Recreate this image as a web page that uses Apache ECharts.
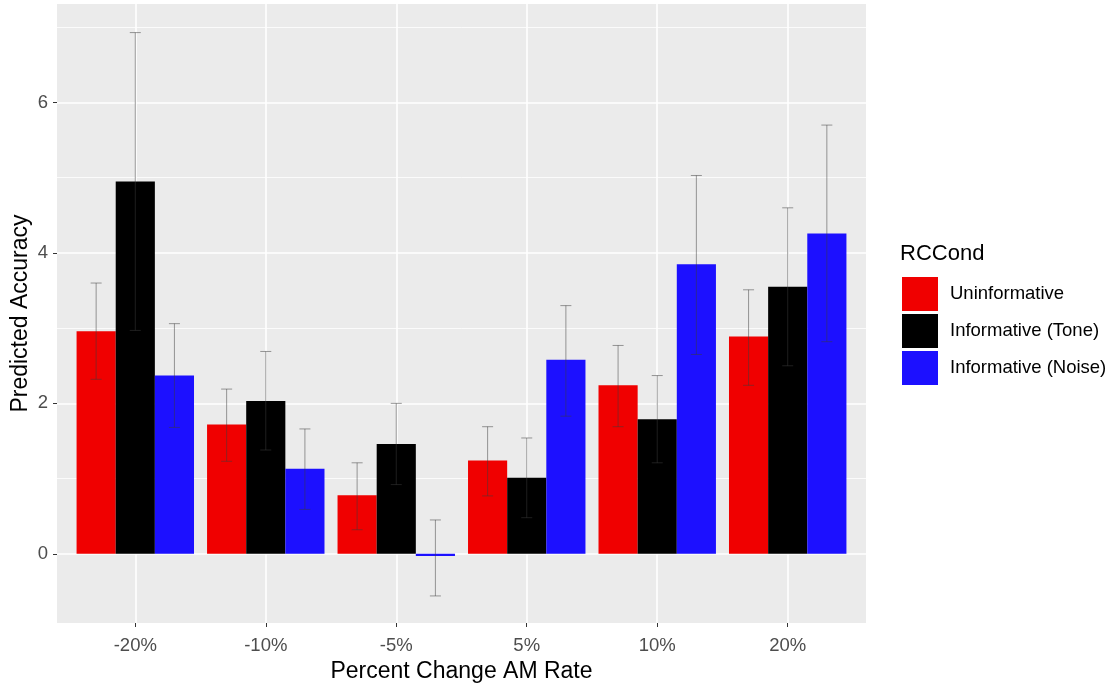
<!DOCTYPE html>
<html>
<head>
<meta charset="utf-8">
<script src="https://cdn.jsdelivr.net/npm/echarts@6/dist/echarts.min.js"></script>
<style>
  html, body { margin: 0; padding: 0; background: #fff; }
  #chart { width: 1118px; height: 687px; }
</style>
</head>
<body>
<div id="chart"></div>
<script>
// categorias e valores
const categories = ['-20%', '-10%', '-5%', '5%', '10%', '20%'];
const seriesNames = ['Uninformative', 'Informative (Tone)', 'Informative (Noise)'];

const uninformative = [2.96, 1.72, 0.78, 1.24, 2.24, 2.89];
const uninformativeLow = [2.32, 1.23, 0.32, 0.77, 1.69, 2.24];
const uninformativeHigh = [3.60, 2.19, 1.21, 1.69, 2.77, 3.51];

const tone = [4.95, 2.03, 1.46, 1.01, 1.79, 3.55];
const toneLow = [2.97, 1.38, 0.92, 0.48, 1.21, 2.50];
const toneHigh = [6.93, 2.69, 2.00, 1.54, 2.37, 4.60];

const noise = [2.37, 1.13, -0.03, 2.58, 3.85, 4.26];
const noiseLow = [1.68, 0.59, -0.56, 1.83, 2.65, 2.82];
const noiseHigh = [3.06, 1.66, 0.45, 3.30, 5.03, 5.70];

const yTicks = [0, 2, 4, 6];
const yMinorLines = [1, 3, 5, 7];

const colors = ['#F00000', '#000000', '#1C10FF'];
const fontFamily = '"Liberation Sans", Arial, sans-serif';

// posições das categorias (eixo discreto do ggplot tem expansão de 0.6)
const catIndex = categories.map(function (c, i) { return i; });

function pairs(values) {
    return values.map(function (v, i) { return [i, v]; });
}

function errorSeries(k, low, high) {
    return {
        type: 'custom',
        z: 3,
        silent: true,
        data: categories.map(function (c, i) { return [i, low[i], high[i]]; }),
        encode: { x: 0, y: [1, 2] },
        renderItem: function (params, api) {
            var idx = api.value(0);
            var top = api.coord([idx, api.value(2)]);
            var bot = api.coord([idx, api.value(1)]);
            var bw = api.size([1, 0])[0] * 0.9 / 3;
            var x = top[0] + (k - 1) * bw;
            var cap = 5.5;
            var style = { stroke: 'rgba(60,60,60,0.5)', lineWidth: 1 };
            return {
                type: 'group',
                children: [
                    { type: 'line', shape: { x1: x, y1: top[1], x2: x, y2: bot[1] }, style: style },
                    { type: 'line', shape: { x1: x - cap, y1: top[1], x2: x + cap, y2: top[1] }, style: style },
                    { type: 'line', shape: { x1: x - cap, y1: bot[1], x2: x + cap, y2: bot[1] }, style: style }
                ]
            };
        }
    };
}

// linhas de grade no estilo ggplot
var gridLines = [];
yTicks.forEach(function (v) {
    gridLines.push({ yAxis: v, lineStyle: { width: 1.6 } });
});
yMinorLines.forEach(function (v) {
    gridLines.push({ yAxis: v, lineStyle: { width: 0.8 } });
});
catIndex.forEach(function (i) {
    gridLines.push({ xAxis: i, lineStyle: { width: 1.6 } });
});

const chart = echarts.init(document.getElementById('chart'));

const option = {
    animation: false,
    textStyle: { fontFamily: fontFamily },
    title: {
        text: 'RCCond',
        left: 900,
        top: 243,
        padding: 0,
        textStyle: { fontSize: 22, fontWeight: 'normal', color: '#000', fontFamily: fontFamily }
    },
    legend: {
        data: seriesNames,
        orient: 'vertical',
        left: 902,
        top: 277,
        padding: 0,
        itemWidth: 36,
        itemHeight: 34,
        itemGap: 3,
        icon: 'rect',
        selectedMode: false,
        textStyle: { fontSize: 18.5, color: '#000', padding: [0, 0, 0, 7], fontFamily: fontFamily }
    },
    grid: {
        left: 57,
        right: 252,
        top: 4,
        bottom: 64,
        outerBoundsMode: 'none',
        containLabel: false,
        show: true,
        backgroundColor: '#EBEBEB',
        borderWidth: 0
    },
    xAxis: {
        type: 'value',
        min: -0.6,
        max: 5.6,
        name: 'Percent Change AM Rate',
        nameLocation: 'middle',
        nameGap: 37,
        nameMoveOverlap: false,
        nameTextStyle: { fontSize: 23, color: '#000', fontFamily: fontFamily },
        axisLine: { show: false, onZero: false },
        axisTick: { show: true, length: 4, customValues: catIndex, lineStyle: { color: '#333' } },
        axisLabel: {
            fontSize: 18.5,
            color: '#4D4D4D',
            margin: 13,
            customValues: catIndex,
            formatter: function (v) { return categories[Math.round(v)]; }
        },
        splitLine: { show: false }
    },
    yAxis: {
        type: 'value',
        min: -0.92,
        max: 7.31,
        name: 'Predicted Accuracy',
        nameLocation: 'middle',
        nameGap: 25,
        nameMoveOverlap: false,
        nameTextStyle: { fontSize: 23, color: '#000', fontFamily: fontFamily },
        axisLine: { show: false, onZero: false },
        axisTick: { show: true, length: 4, customValues: yTicks, lineStyle: { color: '#333' } },
        axisLabel: { fontSize: 18.5, color: '#4D4D4D', margin: 9, customValues: yTicks },
        splitLine: { show: false }
    },
    series: [
        {
            type: 'line',
            data: [],
            silent: true,
            z: 1,
            markLine: {
                z: 1,
                silent: true,
                symbol: 'none',
                animation: false,
                label: { show: false },
                lineStyle: { color: '#FFFFFF', type: 'solid' },
                emphasis: { disabled: true },
                data: gridLines
            }
        },
        {
            name: seriesNames[0],
            type: 'bar',
            data: pairs(uninformative),
            itemStyle: { color: colors[0] },
            barGap: 0,
            barCategoryGap: '10%'
        },
        {
            name: seriesNames[1],
            type: 'bar',
            data: pairs(tone),
            itemStyle: { color: colors[1] },
            barGap: 0,
            barCategoryGap: '10%'
        },
        {
            name: seriesNames[2],
            type: 'bar',
            data: pairs(noise),
            itemStyle: { color: colors[2] },
            barGap: 0,
            barCategoryGap: '10%'
        },
        errorSeries(0, uninformativeLow, uninformativeHigh),
        errorSeries(1, toneLow, toneHigh),
        errorSeries(2, noiseLow, noiseHigh)
    ]
};

chart.setOption(option);
</script>
</body>
</html>
